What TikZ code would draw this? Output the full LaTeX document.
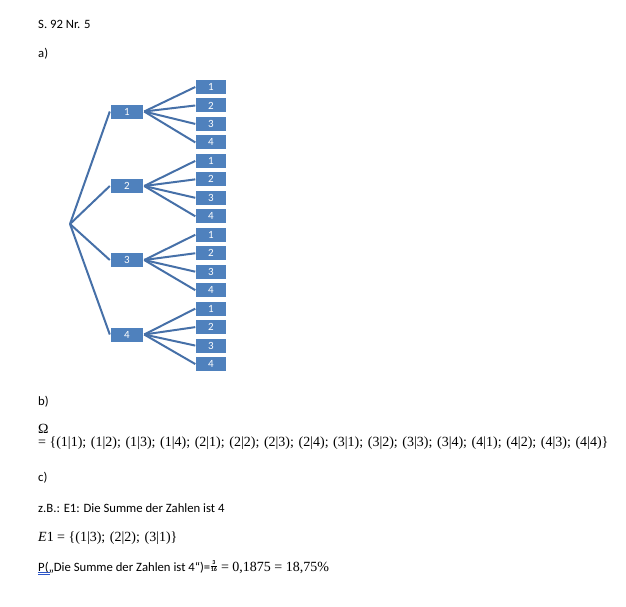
\documentclass[tikz,border=0pt]{standalone}
\usepackage{fontspec}
\setmainfont{Carlito}
\newfontfamily\mathserif{Liberation Serif}
\usetikzlibrary{positioning}
\definecolor{boxblue}{HTML}{4F81BD}
\definecolor{lineblue}{HTML}{4670A8}
\definecolor{spellblue}{HTML}{2B55C8}
\newcommand{\sepx}{;\hspace{4.6pt}}
\newcommand{\smallfrac}[2]{{\fontsize{6}{6}\selectfont\bfseries\setbox0\hbox{#2}\hspace{0.6pt}\rlap{\makebox[\wd0]{\raisebox{6.9pt}{#1}}}\rlap{\raisebox{5.1pt}{\rule{\wd0}{0.4pt}}}\box0\hspace{0.6pt}}}
\tikzset{
  leafbox/.style={fill=boxblue, draw=none, minimum width=30pt, minimum height=14pt, inner sep=0pt,
    text=white, font=\fontsize{11}{12}\selectfont},
  midbox/.style={fill=boxblue, draw=none, minimum width=32pt, minimum height=14pt, inner sep=0pt,
    text=white, font=\fontsize{11}{12}\selectfont},
  branch/.style={draw=lineblue, line width=2pt},
  txt/.style={anchor=base west, inner sep=0pt, font=\fontsize{12.7}{14}\selectfont},
  mtxt/.style={anchor=base west, inner sep=0pt, font=\mathserif\fontsize{14}{16}\selectfont},
}
\begin{document}
\begin{tikzpicture}[x=1pt,y=-1pt]
\useasboundingbox (0,0) rectangle (626,606);
% texts
\node[txt] (title) at (38,28) {S. 92 Nr. 5};
\node[txt] (pa) at (38,57) {a)};
\node[txt] (pb) at (38,405) {b)};
\node[mtxt] (omega) at (38,433) {Ω};
\node[mtxt] (omegaset) at (38,446) {= \{(1|1)\sepx(1|2)\sepx(1|3)\sepx(1|4)\sepx(2|1)\sepx(2|2)\sepx(2|3)\sepx(2|4)\sepx(3|1)\sepx(3|2)\sepx(3|3)\sepx(3|4)\sepx(4|1)\sepx(4|2)\sepx(4|3)\sepx(4|4)\}};
\node[txt] (pc) at (38,481) {c)};
\node[txt] (zb) at (38,512) {z.B.: E1: Die Summe der Zahlen ist 4};
\node[mtxt] (e1) at (38,541) {\textit{E}1 = \{(1|3)\sepx(2|2)\sepx(3|1)\}};
\node[txt] (prob) at (38,571) {P(„Die Summe der Zahlen ist 4“)=\smallfrac{3}{16}{\mathserif\fontsize{14}{16}\selectfont\ = 0,1875 = 18,75\%}};
\coordinate (ulA) at (38,574);
\coordinate (ulB) at (50,574);
\draw[spellblue, line width=0.6pt] (ulA) -- (ulB);
\draw[spellblue, line width=0.6pt] ([yshift=1.6pt]ulA) -- ([yshift=1.6pt]ulB);
% tree
\coordinate (root) at (70,224);
\foreach \i/\y in {1/111.5,2/186,3/260,4/334.5}{
  \node[midbox] (m\i) at (127,\y) {\i};
}
\foreach \i in {1,...,4}{
  \foreach \j in {1,...,4}{
    \pgfmathsetmacro{\yy}{87+18.47*((\i-1)*4+\j-1)}
    \node[leafbox] (l\i\j) at (211,\yy) {\j};
  }
}
\foreach \i in {1,...,4}{
  \draw[branch] (root) -- ([xshift=-1pt]m\i.west);
  \foreach \j in {1,...,4}{
    \draw[branch] ([xshift=1pt]m\i.east) -- ([xshift=-0.5pt]l\i\j.west);
  }
}
\end{tikzpicture}
\end{document}
